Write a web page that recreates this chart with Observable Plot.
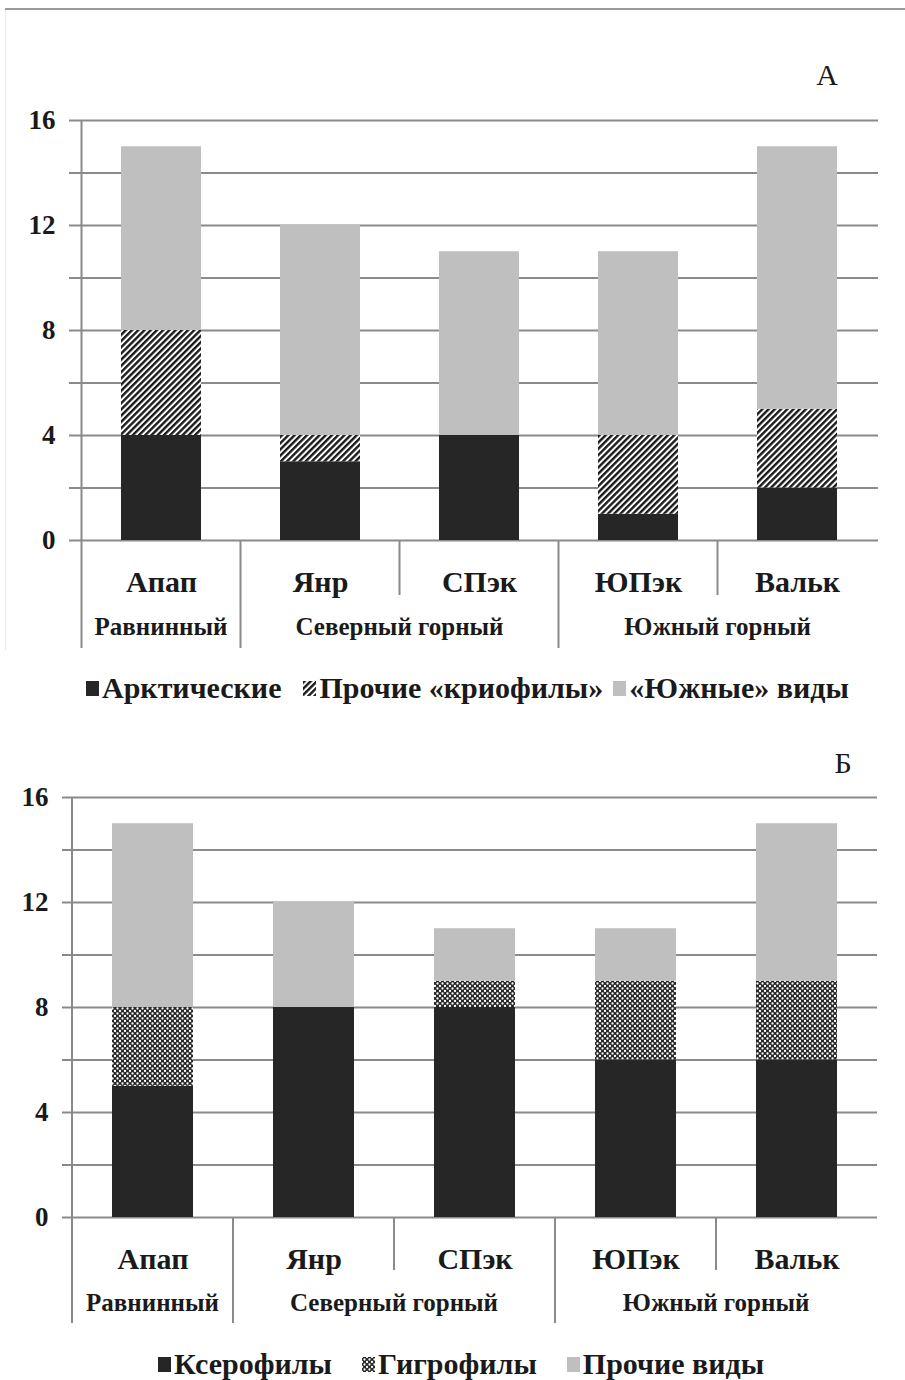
<!DOCTYPE html>
<html>
<head>
<meta charset="utf-8">
<script src="https://cdn.jsdelivr.net/npm/d3@7"></script>
<script src="https://cdn.jsdelivr.net/npm/@observablehq/plot@0.6"></script>
<style>
  body { margin: 0; background: #fff; width: 905px; height: 1380px; position: relative; overflow: hidden;
         font-family: "Liberation Serif", "Times New Roman", serif; color: #1a1a1a; }
  .panel { position: absolute; left: 0; }
  .panel svg text { font-family: "Liberation Serif", "Times New Roman", serif; }
  .rule-top { position: absolute; left: 5px; top: 8px; width: 900px; height: 2px; background: #9a9a9a; }
  .rule-left { position: absolute; left: 5px; top: 10px; width: 1px; height: 640px; background: #ececec; }
  .legend { position: absolute; left: 0; width: 905px; display: flex; align-items: center;
            font-size: 30px; font-weight: bold; white-space: nowrap; }
  .legend .item { display: flex; align-items: center; }
  .legend svg { display: block; margin-right: 3px; }
</style>
</head>
<body>
<svg width="0" height="0" style="position:absolute">
  <defs>
    <pattern id="hatch" width="4.4" height="4.4" patternUnits="userSpaceOnUse" patternTransform="rotate(45)">
      <rect width="4.4" height="4.4" fill="#ffffff"/>
      <rect width="2.4" height="4.4" fill="#1a1a1a"/>
    </pattern>
    <pattern id="dots" width="5" height="5" patternUnits="userSpaceOnUse">
      <rect width="5" height="5" fill="#262626"/>
      <circle cx="0" cy="0" r="1.15" fill="#ffffff"/>
      <circle cx="5" cy="0" r="1.15" fill="#ffffff"/>
      <circle cx="0" cy="5" r="1.15" fill="#ffffff"/>
      <circle cx="5" cy="5" r="1.15" fill="#ffffff"/>
      <circle cx="2.5" cy="2.5" r="1.15" fill="#ffffff"/>
    </pattern>
  </defs>
</svg>
<div class="rule-top"></div>
<div class="rule-left"></div>
<div id="panelA" class="panel" style="top:0"></div>
<div id="legendA" class="legend" style="top:664px;height:48px;padding-left:86px;box-sizing:border-box"></div>
<div id="panelB" class="panel" style="top:716px"></div>
<div id="legendB" class="legend" style="top:1340px;height:48px;padding-left:158px;box-sizing:border-box"></div>
<script>
// Sampling sites and the landscape zones they belong to
const sites = ["Апап", "Янр", "СПэк", "ЮПэк", "Вальк"];
const zoneNames = ["Равнинный", "Северный горный", "Южный горный"];
const zoneSites = [["Апап"], ["Янр", "СПэк"], ["ЮПэк", "Вальк"]];

// Y axis: grid every 2 species, labels every 4
const gridTicks = [0, 2, 4, 6, 8, 10, 12, 14, 16];
const labelTicks = [0, 4, 8, 12, 16];

// Panel А: species by origin
const seriesA = ["Арктические", "Прочие «криофилы»", "«Южные» виды"];
const arctic = [4, 3, 4, 1, 2];
const otherCryophiles = [4, 1, 0, 3, 3];
const southern = [7, 8, 7, 7, 10];

// Panel Б: species by moisture preference
const seriesB = ["Ксерофилы", "Гигрофилы", "Прочие виды"];
const xerophiles = [5, 8, 8, 6, 6];
const hygrophiles = [3, 0, 1, 3, 3];
const otherSpecies = [7, 4, 2, 2, 6];

const GRID = "#8a8a8a";
const INK = "#1a1a1a";
const FONT = "Liberation Serif, Times New Roman, serif";

function stackedPanel({series, values, fills, letter, letterX, letterY,
                       marginLeft, marginRight, marginTop, marginBottom,
                       longDrop, shortDrop, zoneDy}) {
  const rows = series.flatMap((s, i) =>
    sites.map((site, j) => ({site, series: s, count: values[i][j]})));

  const plot = Plot.plot({
    width: 905,
    height: marginTop + 420 + marginBottom,
    marginLeft, marginRight, marginTop, marginBottom,
    style: {fontFamily: FONT, background: "transparent", overflow: "visible", color: INK},
    x: {domain: sites, paddingInner: 0.5, paddingOuter: 0.25, axis: null},
    y: {domain: [0, 16], axis: null},
    color: {domain: series, range: fills},
    marks: [
      Plot.gridY(gridTicks, {stroke: GRID, strokeOpacity: 1, strokeWidth: 2}),
      Plot.axisY(gridTicks, {
        tickSize: 10, tickPadding: 14, stroke: GRID, strokeWidth: 2, fill: INK,
        tickFormat: d => labelTicks.includes(d) ? String(d) : "",
        fontFamily: FONT, fontSize: 27, fontWeight: "bold", label: null
      }),
      Plot.barY(rows, {x: "site", y: "count", fill: "series"}),
      Plot.axisX({tickSize: 0, tickPadding: 30, fontFamily: FONT, fontSize: 30, fontWeight: "bold",
                  fill: INK, label: null})
    ]
  });

  const sx = plot.scale("x");
  const sy = plot.scale("y");
  const half = sx.step / 2;
  const center = site => sx.apply(site) + sx.bandwidth / 2;
  const y0 = sy.apply(0);
  const svg = d3.select(plot);
  const g = svg.append("g");

  // Y axis line and the separators under the category axis
  sites.forEach((site, i) => {
    const x = center(site) - half;
    const startsZone = zoneSites.some(z => z[0] === site);
    g.append("line")
      .attr("x1", x).attr("x2", x)
      .attr("y1", i === 0 ? sy.apply(16) : y0)
      .attr("y2", y0 + (startsZone ? longDrop : shortDrop))
      .attr("stroke", GRID).attr("stroke-width", 2);
  });

  // Zone labels centred under their group of sites
  zoneNames.forEach((name, i) => {
    const first = zoneSites[i][0], last = zoneSites[i][zoneSites[i].length - 1];
    const cx = ((center(first) - half) + (center(last) + half)) / 2;
    g.append("text")
      .attr("x", cx).attr("y", y0 + zoneDy)
      .attr("text-anchor", "middle")
      .attr("font-family", FONT).attr("font-size", 25).attr("font-weight", "bold")
      .attr("fill", INK).text(name);
  });

  // Panel letter
  g.append("text")
    .attr("x", letterX).attr("y", letterY)
    .attr("text-anchor", "middle")
    .attr("font-family", FONT).attr("font-size", 30)
    .attr("fill", INK).text(letter);

  return plot;
}

function legend(el, series, fills, gaps) {
  series.forEach((s, i) => {
    const item = document.createElement("div");
    item.className = "item";
    item.style.marginRight = (gaps[i] || 0) + "px";
    item.innerHTML = `<svg width="13" height="15"><rect width="13" height="15" fill="${fills[i]}"/></svg><span>${s}</span>`;
    el.appendChild(item);
  });
}

const fillsA = ["#262626", "url(#hatch)", "#bfbfbf"];
const fillsB = ["#262626", "url(#dots)", "#bfbfbf"];

document.getElementById("panelA").appendChild(stackedPanel({
  series: seriesA, values: [arctic, otherCryophiles, southern], fills: fillsA,
  letter: "А", letterX: 827, letterY: 85,
  marginLeft: 79, marginRight: 27, marginTop: 120, marginBottom: 120,
  longDrop: 108, shortDrop: 55, zoneDy: 95
}));

document.getElementById("panelB").appendChild(stackedPanel({
  series: seriesB, values: [xerophiles, hygrophiles, otherSpecies], fills: fillsB,
  letter: "Б", letterX: 843, letterY: 57,
  marginLeft: 72, marginRight: 28, marginTop: 81, marginBottom: 118,
  longDrop: 106, shortDrop: 53, zoneDy: 94
}));

legend(document.getElementById("legendA"), seriesA, fillsA, [22, 10, 0]);
legend(document.getElementById("legendB"), seriesB, fillsB, [30, 30, 0]);
</script>
</body>
</html>
